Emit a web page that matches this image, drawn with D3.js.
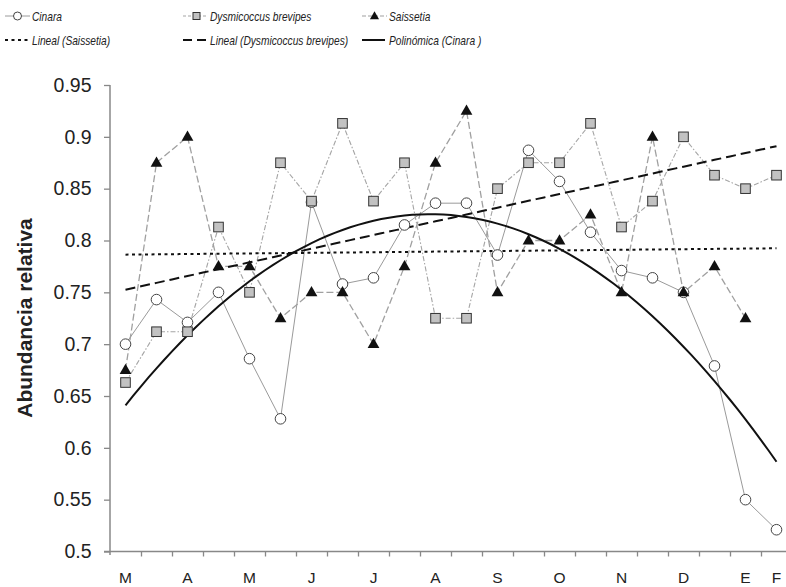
<!DOCTYPE html>
<html>
<head>
<meta charset="utf-8">
<script src="https://cdn.jsdelivr.net/npm/d3@7"></script>
<style>
  body { margin: 0; background: #fff; }
  svg { display: block; font-family: "Liberation Sans", Arial, sans-serif; }
  .legend text { font-family: "Liberation Sans", Arial, sans-serif; font-style: italic; font-size: 13.5px; fill: #222; }
</style>
</head>
<body>
<svg width="786" height="587"></svg>
<script>
// half-month sampling points, March -> February
var monthLabels = ["M", "A", "M", "J", "J", "A", "S", "O", "N", "D", "E", "F"];
var labelIndex = [0, 2, 4, 6, 8, 10, 12, 14, 16, 18, 20, 21];
var yTicks = [0.5, 0.55, 0.6, 0.65, 0.7, 0.75, 0.8, 0.85, 0.9, 0.95];

var cinara = [0.70, 0.743, 0.721, 0.75, 0.686, 0.628, 0.837, 0.758, 0.764, 0.815, 0.836,
	0.836, 0.786, 0.887, 0.857, 0.808, 0.771, 0.764, 0.75, 0.679, 0.55, 0.521];
var dysmicoccus = [0.663, 0.712, 0.712, 0.813, 0.75, 0.875, 0.838, 0.913, 0.838, 0.875, 0.725,
	0.725, 0.85, 0.875, 0.875, 0.913, 0.813, 0.838, 0.9, 0.863, 0.85, 0.863];
var saissetia = [0.675, 0.875, 0.9, 0.775, 0.775, 0.725, 0.75, 0.75, 0.7, 0.775, 0.875,
	0.925, 0.75, 0.8, 0.8, 0.825, 0.75, 0.9, 0.75, 0.775, 0.725, null];

var svg = d3.select("svg"),
	left = 110,
	step = 31,
	n = cinara.length;

var x = d3.scaleLinear().domain([0, n]).range([left, left + n * step]);
var y = d3.scaleLinear().domain([0.5, 0.95]).range([551.5, 85]);
var cx = i => x(i + 0.5);

// trend lines (least squares, x = 1..n like the spreadsheet does)
function linearFit(vals) {
	var pts = vals.map((v, i) => [i + 1, v]).filter(p => p[1] != null);
	var mx = d3.mean(pts, p => p[0]), my = d3.mean(pts, p => p[1]);
	var b = d3.sum(pts, p => (p[0] - mx) * (p[1] - my)) / d3.sum(pts, p => (p[0] - mx) * (p[0] - mx));
	return t => my + b * (t - mx);
}
function quadFit(vals) {
	var S = [0, 0, 0, 0, 0], T = [0, 0, 0];
	vals.forEach((v, i) => {
		var t = i + 1;
		for (var k = 0; k < 5; k++) S[k] += Math.pow(t, k);
		for (var k = 0; k < 3; k++) T[k] += v * Math.pow(t, k);
	});
	var A = [[S[0], S[1], S[2], T[0]], [S[1], S[2], S[3], T[1]], [S[2], S[3], S[4], T[2]]];
	for (var c = 0; c < 3; c++) {
		for (var r = c + 1; r < 3; r++) {
			var f = A[r][c] / A[c][c];
			for (var k = c; k < 4; k++) A[r][k] -= f * A[c][k];
		}
	}
	var coef = [0, 0, 0];
	for (var r = 2; r >= 0; r--) {
		var s = A[r][3];
		for (var k = r + 1; k < 3; k++) s -= A[r][k] * coef[k];
		coef[r] = s / A[r][r];
	}
	return t => coef[0] + coef[1] * t + coef[2] * t * t;
}

// axes
var yAxis = svg.append("g")
	.attr("transform", "translate(" + left + ",0)")
	.call(d3.axisLeft(y).tickValues(yTicks).tickFormat(d => String(d)).tickSize(6).tickPadding(12.5));
yAxis.select(".domain").attr("stroke", "#888").attr("stroke-width", 1.5).attr("d", "M0,85V555");
yAxis.selectAll(".tick line").attr("stroke", "#888").attr("stroke-width", 1.3);
yAxis.selectAll(".tick text").attr("fill", "#222").style("font-size", "19.5px");

var xAxis = svg.append("g")
	.attr("transform", "translate(0,551.5)")
	.call(d3.axisBottom(x).tickValues(d3.range(1, n + 1)).tickFormat("").tickSize(5).tickSizeOuter(0));
xAxis.select(".domain").attr("stroke", "#888").attr("stroke-width", 1.5).attr("d", "M" + (left - 6) + ",0H786");
xAxis.selectAll(".tick line").attr("stroke", "#888").attr("stroke-width", 1.3);

svg.append("g").selectAll("text")
	.data(labelIndex)
	.join("text")
	.attr("x", d => cx(d))
	.attr("y", 583)
	.attr("text-anchor", "middle")
	.attr("fill", "#222")
	.style("font-size", "15.5px")
	.text((d, i) => monthLabels[i]);

svg.append("text")
	.attr("transform", "translate(32,318) rotate(-90)")
	.attr("text-anchor", "middle")
	.attr("fill", "#222")
	.style("font-size", "21px")
	.style("font-weight", "bold")
	.text("Abundancia relativa");

// series lines
var line = d3.line().defined(d => d != null).x((d, i) => cx(i)).y(d => y(d));
svg.append("path").datum(cinara).attr("d", line)
	.attr("fill", "none").attr("stroke", "#9a9a9a").attr("stroke-width", 1);
svg.append("path").datum(dysmicoccus).attr("d", line)
	.attr("fill", "none").attr("stroke", "#a5a5a5").attr("stroke-width", 1.1).attr("stroke-dasharray", "5,2,1.5,2");
svg.append("path").datum(saissetia).attr("d", line)
	.attr("fill", "none").attr("stroke", "#a0a0a0").attr("stroke-width", 1.3).attr("stroke-dasharray", "7,3");

// trend lines
var ts = d3.range(1, n + 0.001, 0.25);
var trendLine = f => d3.line().x(t => x(t - 0.5)).y(t => y(f(t)))(ts);
svg.append("path").attr("d", trendLine(linearFit(saissetia)))
	.attr("fill", "none").attr("stroke", "#111").attr("stroke-width", 2).attr("stroke-dasharray", "3,3.5");
svg.append("path").attr("d", trendLine(linearFit(dysmicoccus)))
	.attr("fill", "none").attr("stroke", "#111").attr("stroke-width", 2).attr("stroke-dasharray", "10,5");
svg.append("path").attr("d", trendLine(quadFit(cinara)))
	.attr("fill", "none").attr("stroke", "#111").attr("stroke-width", 2);

// markers
var tri = d3.symbol().type(d3.symbolTriangle).size(60);
function drawMarkers(g, vals, kind) {
	var pts = vals.map((v, i) => ({i: i, v: v})).filter(d => d.v != null);
	if (kind === "circle") {
		g.selectAll("circle").data(pts).join("circle")
			.attr("cx", d => cx(d.i)).attr("cy", d => y(d.v)).attr("r", 5.3)
			.attr("fill", "#fff").attr("stroke", "#444").attr("stroke-width", 1);
	} else if (kind === "square") {
		g.selectAll("rect").data(pts).join("rect")
			.attr("x", d => cx(d.i) - 4.8).attr("y", d => y(d.v) - 4.8).attr("width", 9.6).attr("height", 9.6)
			.attr("fill", "#c2c2c2").attr("stroke", "#333").attr("stroke-width", 1);
	} else {
		g.selectAll("path").data(pts).join("path")
			.attr("d", tri).attr("transform", d => "translate(" + cx(d.i) + "," + (y(d.v) + 0.5) + ")")
			.attr("fill", "#111");
	}
}
drawMarkers(svg.append("g"), cinara, "circle");
drawMarkers(svg.append("g"), dysmicoccus, "square");
drawMarkers(svg.append("g"), saissetia, "triangle");

// legend (narrow italic text, squeezed horizontally)
var legend = svg.append("g").attr("class", "legend");
var items = [
	{label: "Cinara", x: 5, y: 16, stroke: "#9a9a9a", dash: null, w: 1, marker: "circle"},
	{label: "Dysmicoccus brevipes", x: 183, y: 16, stroke: "#a5a5a5", dash: "3,2", w: 1, marker: "square"},
	{label: "Saissetia", x: 362, y: 16, stroke: "#a0a0a0", dash: "4,2", w: 1.2, marker: "triangle"},
	{label: "Lineal (Saissetia)", x: 5, y: 40, stroke: "#111", dash: "3,3.5", w: 2, marker: null},
	{label: "Lineal (Dysmicoccus brevipes)", x: 183, y: 40, stroke: "#111", dash: "9,5", w: 2, marker: null},
	{label: "Polinómica (Cinara )", x: 362, y: 40, stroke: "#111", dash: null, w: 2, marker: null}
];
items.forEach(it => {
	var g = legend.append("g").attr("transform", "translate(" + it.x + "," + it.y + ")");
	g.append("line").attr("x1", 0).attr("x2", it.marker ? 25 : 23).attr("y1", 0).attr("y2", 0)
		.attr("stroke", it.stroke).attr("stroke-width", it.w).attr("stroke-dasharray", it.dash);
	if (it.marker === "circle")
		g.append("circle").attr("cx", 12.5).attr("r", 4).attr("fill", "#fff").attr("stroke", "#444");
	if (it.marker === "square")
		g.append("rect").attr("x", 10).attr("y", -3.5).attr("width", 7).attr("height", 7).attr("fill", "#c2c2c2").attr("stroke", "#333");
	if (it.marker === "triangle")
		g.append("path").attr("d", d3.symbol().type(d3.symbolTriangle).size(36)).attr("transform", "translate(12.5,0.5)").attr("fill", "#111");
	g.append("text").attr("transform", "translate(27,5) scale(0.755,1)").text(it.label);
});
</script>
</body>
</html>
